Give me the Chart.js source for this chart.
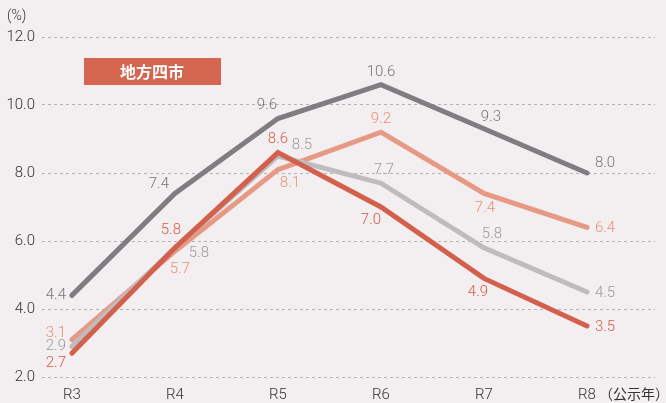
<!DOCTYPE html>
<html><head><meta charset="utf-8">
<script src="https://cdn.jsdelivr.net/npm/chart.js@4"></script>
<style>
html,body{margin:0;padding:0;background:#f3eeef;}
#wrap{position:relative;width:666px;height:403px;}
canvas{display:block;}
</style></head>
<body><div id="wrap"><canvas id="c" width="666" height="403"></canvas></div>
<script>
const categories = ['R3','R4','R5','R6','R7','R8'];
const seriesNames = ['A','B','C','地方四市'];
const darkGray = [4.4, 7.4, 9.6, 10.6, 9.3, 8.0];
const salmon   = [3.1, 5.7, 8.1, 9.2, 7.4, 6.4];
const lightGray= [2.9, 5.8, 8.5, 7.7, 5.8, 4.5];
const red      = [2.7, 5.8, 8.6, 7.0, 4.9, 3.5];
const yTicks   = [2, 4, 6, 8, 10, 12];
const unitLabel = '(%)';
const xUnitLabel = '（公示年）';
const legendLabel = '地方四市';

const FONT = "Roboto, 'Liberation Sans', sans-serif";
const pts = arr => arr.map((v,i)=>({x:i,y:v}));

const labelPlugin = {
  id:'pointLabels',
  afterDatasetsDraw(chart){
    const ctx = chart.ctx;
    ctx.save();
    ctx.font = '300 15px ' + FONT;
    ctx.textAlign = 'center';
    ctx.textBaseline = 'middle';
    chart.data.datasets.forEach((ds,di)=>{
      const meta = chart.getDatasetMeta(di);
      meta.data.forEach((el,i)=>{
        const off = ds.labelOffsets[i];
        ctx.fillStyle = ds.labelColor;
        ctx.fillText(ds.data[i].y.toFixed(1), el.x + off[0], el.y + off[1]);
      });
    });
    ctx.fillStyle = '#333';
    ctx.textAlign = 'left';
    ctx.font = '300 14px ' + FONT;
    ctx.fillText(unitLabel, 7, 16);
    const xs = chart.scales.x;
    ctx.font = "14px 'Noto Sans CJK JP', sans-serif";
    ctx.fillText(xUnitLabel, xs.getPixelForValue(5) + 12, 394);
    ctx.fillStyle = '#d4654f';
    ctx.fillRect(84, 58, 137, 27);
    ctx.fillStyle = '#ffffff';
    ctx.textAlign = 'center';
    ctx.font = "bold 16px 'Noto Sans CJK JP', sans-serif";
    ctx.fillText(legendLabel, 152, 72);
    ctx.restore();
  }
};

new Chart(document.getElementById('c'), {
  type:'line',
  data:{
    datasets:[
      {label:seriesNames[3], data:pts(red), borderColor:'#d3604d', labelColor:'#d65c47', order:0,
       labelOffsets:[[-16,10],[-4,-18],[0,-13],[-10,13],[-6,14],[18,1]]},
      {label:seriesNames[2], data:pts(lightGray), borderColor:'#bdbdc0', labelColor:'#9a9a9d', order:1,
       labelOffsets:[[-16,0],[24,5],[24,-11],[3,-13],[8,-14],[18,1]]},
      {label:seriesNames[1], data:pts(salmon), borderColor:'#e69a86', labelColor:'#e8907a', order:2,
       labelOffsets:[[-16,-6],[5,18],[12,14],[0,-13],[1,15],[18,1]]},
      {label:seriesNames[0], data:pts(darkGray), borderColor:'#7e7d81', labelColor:'#767679', order:3,
       labelOffsets:[[-16,0],[-16,-9],[-11,-13],[0,-12],[7,-12],[18,-10]]}
    ]
  },
  options:{
    responsive:false, animation:false,
    layout:{padding:{top:37,left:0,right:11,bottom:0}},
    elements:{line:{borderWidth:5, tension:0, borderCapStyle:'round', borderJoinStyle:'miter'}, point:{radius:0}},
    plugins:{legend:{display:false}, tooltip:{enabled:false}},
    scales:{
      x:{type:'linear', min:-0.29, max:5.66,
        afterBuildTicks:s=>{s.ticks = categories.map((c,i)=>({value:i}));},
        afterFit:s=>{s.height = 26; s.paddingLeft = 0; s.paddingRight = 0;},
        ticks:{callback:v=>categories[v], color:'#333', font:{size:15, family:FONT, weight:'300'}, padding:1, maxRotation:0, autoSkip:false},
        grid:{display:false}, border:{display:false}},
      y:{min:2, max:12,
        afterBuildTicks:s=>{s.ticks = yTicks.map(v=>({value:v}));},
        afterFit:s=>{s.width = 42; s.paddingTop = 0; s.paddingBottom = 0;},
        ticks:{callback:v=>v.toFixed(1), color:'#333', font:{size:15, family:FONT, weight:'300'}, padding:7},
        grid:{color:'#b5b2b3', lineWidth:1, drawTicks:false},
        border:{display:false, dash:[3,3]}}
    }
  },
  plugins:[labelPlugin]
});
</script></body></html>
